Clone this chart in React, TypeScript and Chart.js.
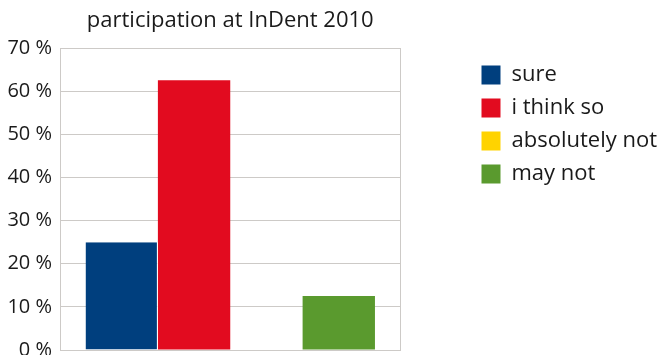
import React, { useEffect, useRef } from 'react';
import { Chart, registerables } from 'chart.js';

Chart.register(...registerables);

const chartTitle = 'participation at InDent 2010';
const categories = [''];
const seriesNames = ['sure', 'i think so', 'absolutely not', 'may not'];
const sureValues = [25];
const thinkSoValues = [62.5];
const absolutelyNotValues = [0];
const mayNotValues = [12.5];
const seriesColors = ['#003f7e', '#e20b1f', '#ffd300', '#5a9a2e'];
const yMin = 0;
const yMax = 70;
const yStep = 10;

const FONT = "'Open Sans', sans-serif";
const GRID = '#cdcac7';

export default function App() {
  const ref = useRef<HTMLCanvasElement | null>(null);

  useEffect(() => {
    const canvas = ref.current;
    if (!canvas) return;
    const seriesValues = [sureValues, thinkSoValues, absolutelyNotValues, mayNotValues];
    const chart = new Chart(canvas, {
      type: 'bar',
      data: {
        labels: categories,
        datasets: seriesNames.map((name, i) => ({
          label: name,
          data: seriesValues[i],
          backgroundColor: seriesColors[i],
          borderColor: '#ffffff',
          borderWidth: i === 0 ? { top: 0, left: 0, bottom: 0, right: 1 } : 0,
          borderSkipped: false,
          categoryPercentage: 0.85,
          barPercentage: 1,
        })),
      },
      options: {
        responsive: false,
        animation: false,
        layout: { padding: { left: 0, right: 0, top: 0, bottom: 5 } },
        plugins: {
          tooltip: { enabled: false },
          title: {
            display: true,
            text: chartTitle,
            fullSize: false,
            color: '#1a1a1a',
            font: { family: FONT, size: 22, weight: 'normal', lineHeight: 1.2 },
            padding: { top: 8, bottom: 13.6 },
          },
          legend: {
            display: true,
            position: 'right',
            align: 'start',
            fullSize: false,
            maxWidth: 260,
            title: { display: true, text: '', font: { size: 5, lineHeight: 1 }, padding: 0 },
            labels: {
              boxWidth: 19,
              boxHeight: 19,
              padding: 11,
              color: '#1a1a1a',
              font: { family: FONT, size: 22 },
              generateLabels: (c: any) =>
                Chart.defaults.plugins.legend.labels.generateLabels(c).map((l: any) => ({
                  ...l,
                  lineWidth: 0,
                  strokeStyle: 'transparent',
                })),
            },
          },
        },
        scales: {
          x: {
            display: false,
            grid: { display: false },
          },
          y: {
            min: yMin,
            max: yMax,
            afterFit: (s: any) => {
              s.width = 60;
              s.paddingBottom = 0;
              s.paddingTop = 0;
            },
            ticks: {
              stepSize: yStep,
              padding: 8,
              color: '#1a1a1a',
              font: { family: FONT, size: 20 },
              callback: (v: any) => `${v} %`,
            },
            grid: { color: GRID, lineWidth: 1, drawTicks: false },
            border: { display: true, color: GRID, width: 1 },
          },
          y2: {
            position: 'right',
            min: 0,
            max: 1,
            afterFit: (s: any) => { s.width = 70; },
            ticks: { display: false },
            grid: { display: false, drawTicks: false },
            border: { display: true, color: GRID, width: 1 },
          },
        },
      },
    });
    return () => chart.destroy();
  }, []);

  return (
    <div style={{ position: 'absolute', left: 0, top: 0, width: 667, height: 355, background: '#fff' }}>
      <canvas ref={ref} width={667} height={355} style={{ display: 'block' }} />
    </div>
  );
}
